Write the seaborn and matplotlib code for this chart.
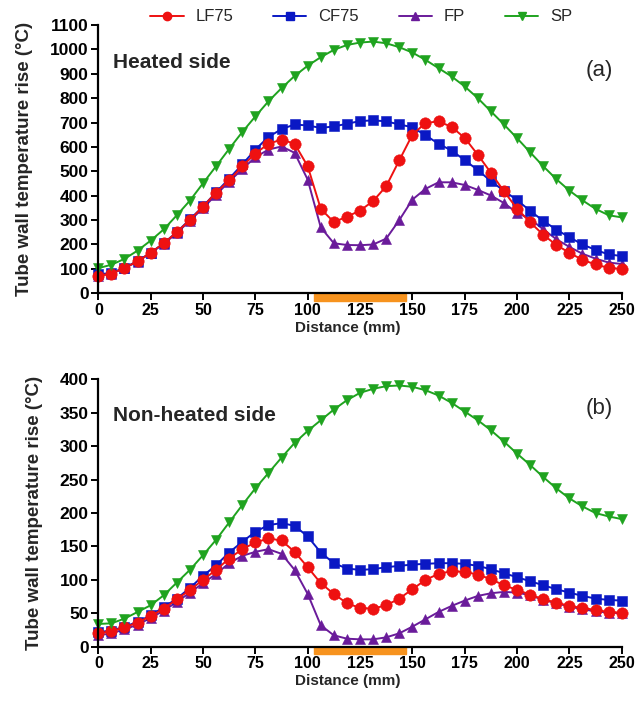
import numpy as np
import pandas as pd
import matplotlib
matplotlib.use("Agg")
import matplotlib.pyplot as plt
import matplotlib.transforms as mtransforms
from matplotlib.patches import Rectangle
import seaborn as sns

# ---------------- data ----------------
distance = [i * 6.25 for i in range(41)]  # mm

# Panel (a) heated side
lf75_a = [72, 80, 104, 131, 166, 205, 250, 301, 355, 413, 463, 521, 573, 613, 630, 613, 521, 346, 292, 314,
          339, 378, 439, 545, 650, 698, 705, 682, 637, 568, 494, 418, 347, 291, 240, 198, 166, 137, 118, 104, 100]
cf75_a = [78, 83, 105, 132, 166, 205, 251, 303, 356, 414, 470, 528, 589, 641, 673, 692, 688, 678, 684, 695,
          706, 709, 705, 692, 681, 648, 613, 585, 546, 505, 460, 420, 382, 338, 297, 261, 230, 200, 178, 159, 153]
fp_a = [72, 80, 103, 130, 165, 203, 247, 298, 349, 404, 458, 509, 558, 589, 602, 576, 466, 270, 205, 198,
        197, 200, 224, 300, 384, 428, 455, 455, 444, 424, 401, 370, 330, 305, 262, 222, 190, 162, 142, 126, 120]
sp_a = [103, 117, 141, 175, 216, 262, 320, 380, 451, 521, 592, 661, 725, 787, 841, 891, 933, 968, 998, 1018,
        1028, 1032, 1025, 1009, 987, 957, 923, 889, 848, 800, 746, 692, 636, 578, 521, 468, 421, 381, 346, 320, 311]

# Panel (b) non-heated side
lf75_b = [20, 23, 29, 36, 46, 57, 71, 85, 100, 115, 132, 146, 156, 162, 159, 142, 119, 95, 79, 65,
          58, 57, 62, 72, 86, 100, 109, 113, 112, 108, 101, 92, 85, 78, 71, 66, 61, 58, 55, 52, 51]
cf75_b = [22, 24, 30, 37, 47, 59, 72, 88, 106, 122, 141, 157, 172, 182, 185, 181, 165, 141, 125, 117,
          115, 116, 119, 121, 123, 124, 125, 125, 124, 121, 116, 110, 104, 98, 92, 86, 81, 76, 72, 70, 69]
fp_b = [17, 20, 26, 33, 43, 54, 67, 81, 95, 109, 125, 136, 142, 146, 139, 115, 79, 32, 17, 12,
        11, 11, 14, 20, 30, 41, 52, 61, 69, 76, 80, 82, 81, 77, 70, 65, 60, 56, 53, 51, 50]
sp_b = [34, 35, 42, 52, 62, 77, 96, 115, 137, 160, 186, 212, 237, 260, 283, 305, 323, 339, 355, 369,
        380, 386, 390, 391, 389, 384, 376, 365, 352, 339, 324, 307, 289, 272, 254, 237, 222, 210, 200, 195, 191]

series_names = ["LF75", "CF75", "FP", "SP"]
heated_zone = (103, 147)  # mm, orange bar
x_ticks = [0, 25, 50, 75, 100, 125, 150, 175, 200, 225, 250]
y_ticks_a = list(range(0, 1101, 100))
y_ticks_b = list(range(0, 401, 50))

# ---------------- style ----------------
sns.set_style("ticks")
plt.rcParams["font.family"] = ["Liberation Sans", "DejaVu Sans"]

colors = {"LF75": "#EE1111", "CF75": "#0A18C4", "FP": "#6A1B9A", "SP": "#1FA31F"}
markers = {"LF75": "o", "CF75": "s", "FP": "^", "SP": "v"}
msize = {"LF75": 8.2, "CF75": 7.4, "FP": 7.4, "SP": 7.4}
draw_order = ["FP", "CF75", "LF75", "SP"]

fig = plt.figure(figsize=(6.38, 7.06), dpi=100)
ax_a = fig.add_axes([0.1541, 0.5846, 0.8204, 0.3800])
ax_b = fig.add_axes([0.1541, 0.0840, 0.8204, 0.3785])

panels = [
    (ax_a, {"LF75": lf75_a, "CF75": cf75_a, "FP": fp_a, "SP": sp_a}, y_ticks_a,
     "Heated side", 0.862, "(a)", 0.832),
    (ax_b, {"LF75": lf75_b, "CF75": cf75_b, "FP": fp_b, "SP": sp_b}, y_ticks_b,
     "Non-heated side", 0.866, "(b)", 0.893),
]

for ax, data, yt, title, ty, tag, tagy in panels:
    df = pd.DataFrame({"Distance": distance, **data})
    for name in draw_order:
        sns.lineplot(data=df, x="Distance", y=name, ax=ax, color=colors[name],
                     marker=markers[name], markersize=msize[name], markeredgewidth=0.4,
                     markeredgecolor=colors[name], linewidth=1.4, clip_on=False,
                     label=name, legend=False)
    ax.set_xlim(0, 250)
    ax.set_ylim(yt[0], yt[-1])
    ax.set_xticks(x_ticks)
    ax.set_yticks(yt)
    for s in ["top", "right"]:
        ax.spines[s].set_visible(False)
    for s in ["left", "bottom"]:
        ax.spines[s].set_linewidth(1.6)
        ax.spines[s].set_color("black")
    ax.tick_params(axis="both", direction="out", length=5, width=1.4, colors="black", pad=2)
    ax.tick_params(axis="y", labelsize=12.5)
    ax.tick_params(axis="x", labelsize=11.5)
    for lab in ax.get_xticklabels() + ax.get_yticklabels():
        lab.set_fontweight("bold")
    ax.set_xlabel("Distance (mm)", fontsize=11, fontweight="bold", labelpad=2, x=0.477)
    ax.set_ylabel("Tube wall temperature rise (\u00b0C)", fontsize=13.5, fontweight="bold", labelpad=12)
    ax.text(0.028, ty, title, transform=ax.transAxes, fontsize=15, fontweight="bold",
            va="center", ha="left")
    ax.text(0.958, tagy, tag, transform=ax.transAxes, fontsize=16, va="center", ha="center")
    trans = mtransforms.blended_transform_factory(ax.transData, ax.transAxes)
    ax.add_patch(Rectangle((heated_zone[0], -0.028), heated_zone[1] - heated_zone[0], 0.026,
                           transform=trans, color="#F7931E", clip_on=False, zorder=1))

handles = [plt.Line2D([], [], color=colors[n], marker=markers[n], markersize=6, linewidth=1.4)
           for n in series_names]
fig.legend(handles, series_names, loc="upper center", bbox_to_anchor=(0.566, 1.008), ncol=4,
           frameon=False, fontsize=12, handlelength=2.0, columnspacing=2.4, handletextpad=0.7)

fig.savefig("out.png", dpi=100)
